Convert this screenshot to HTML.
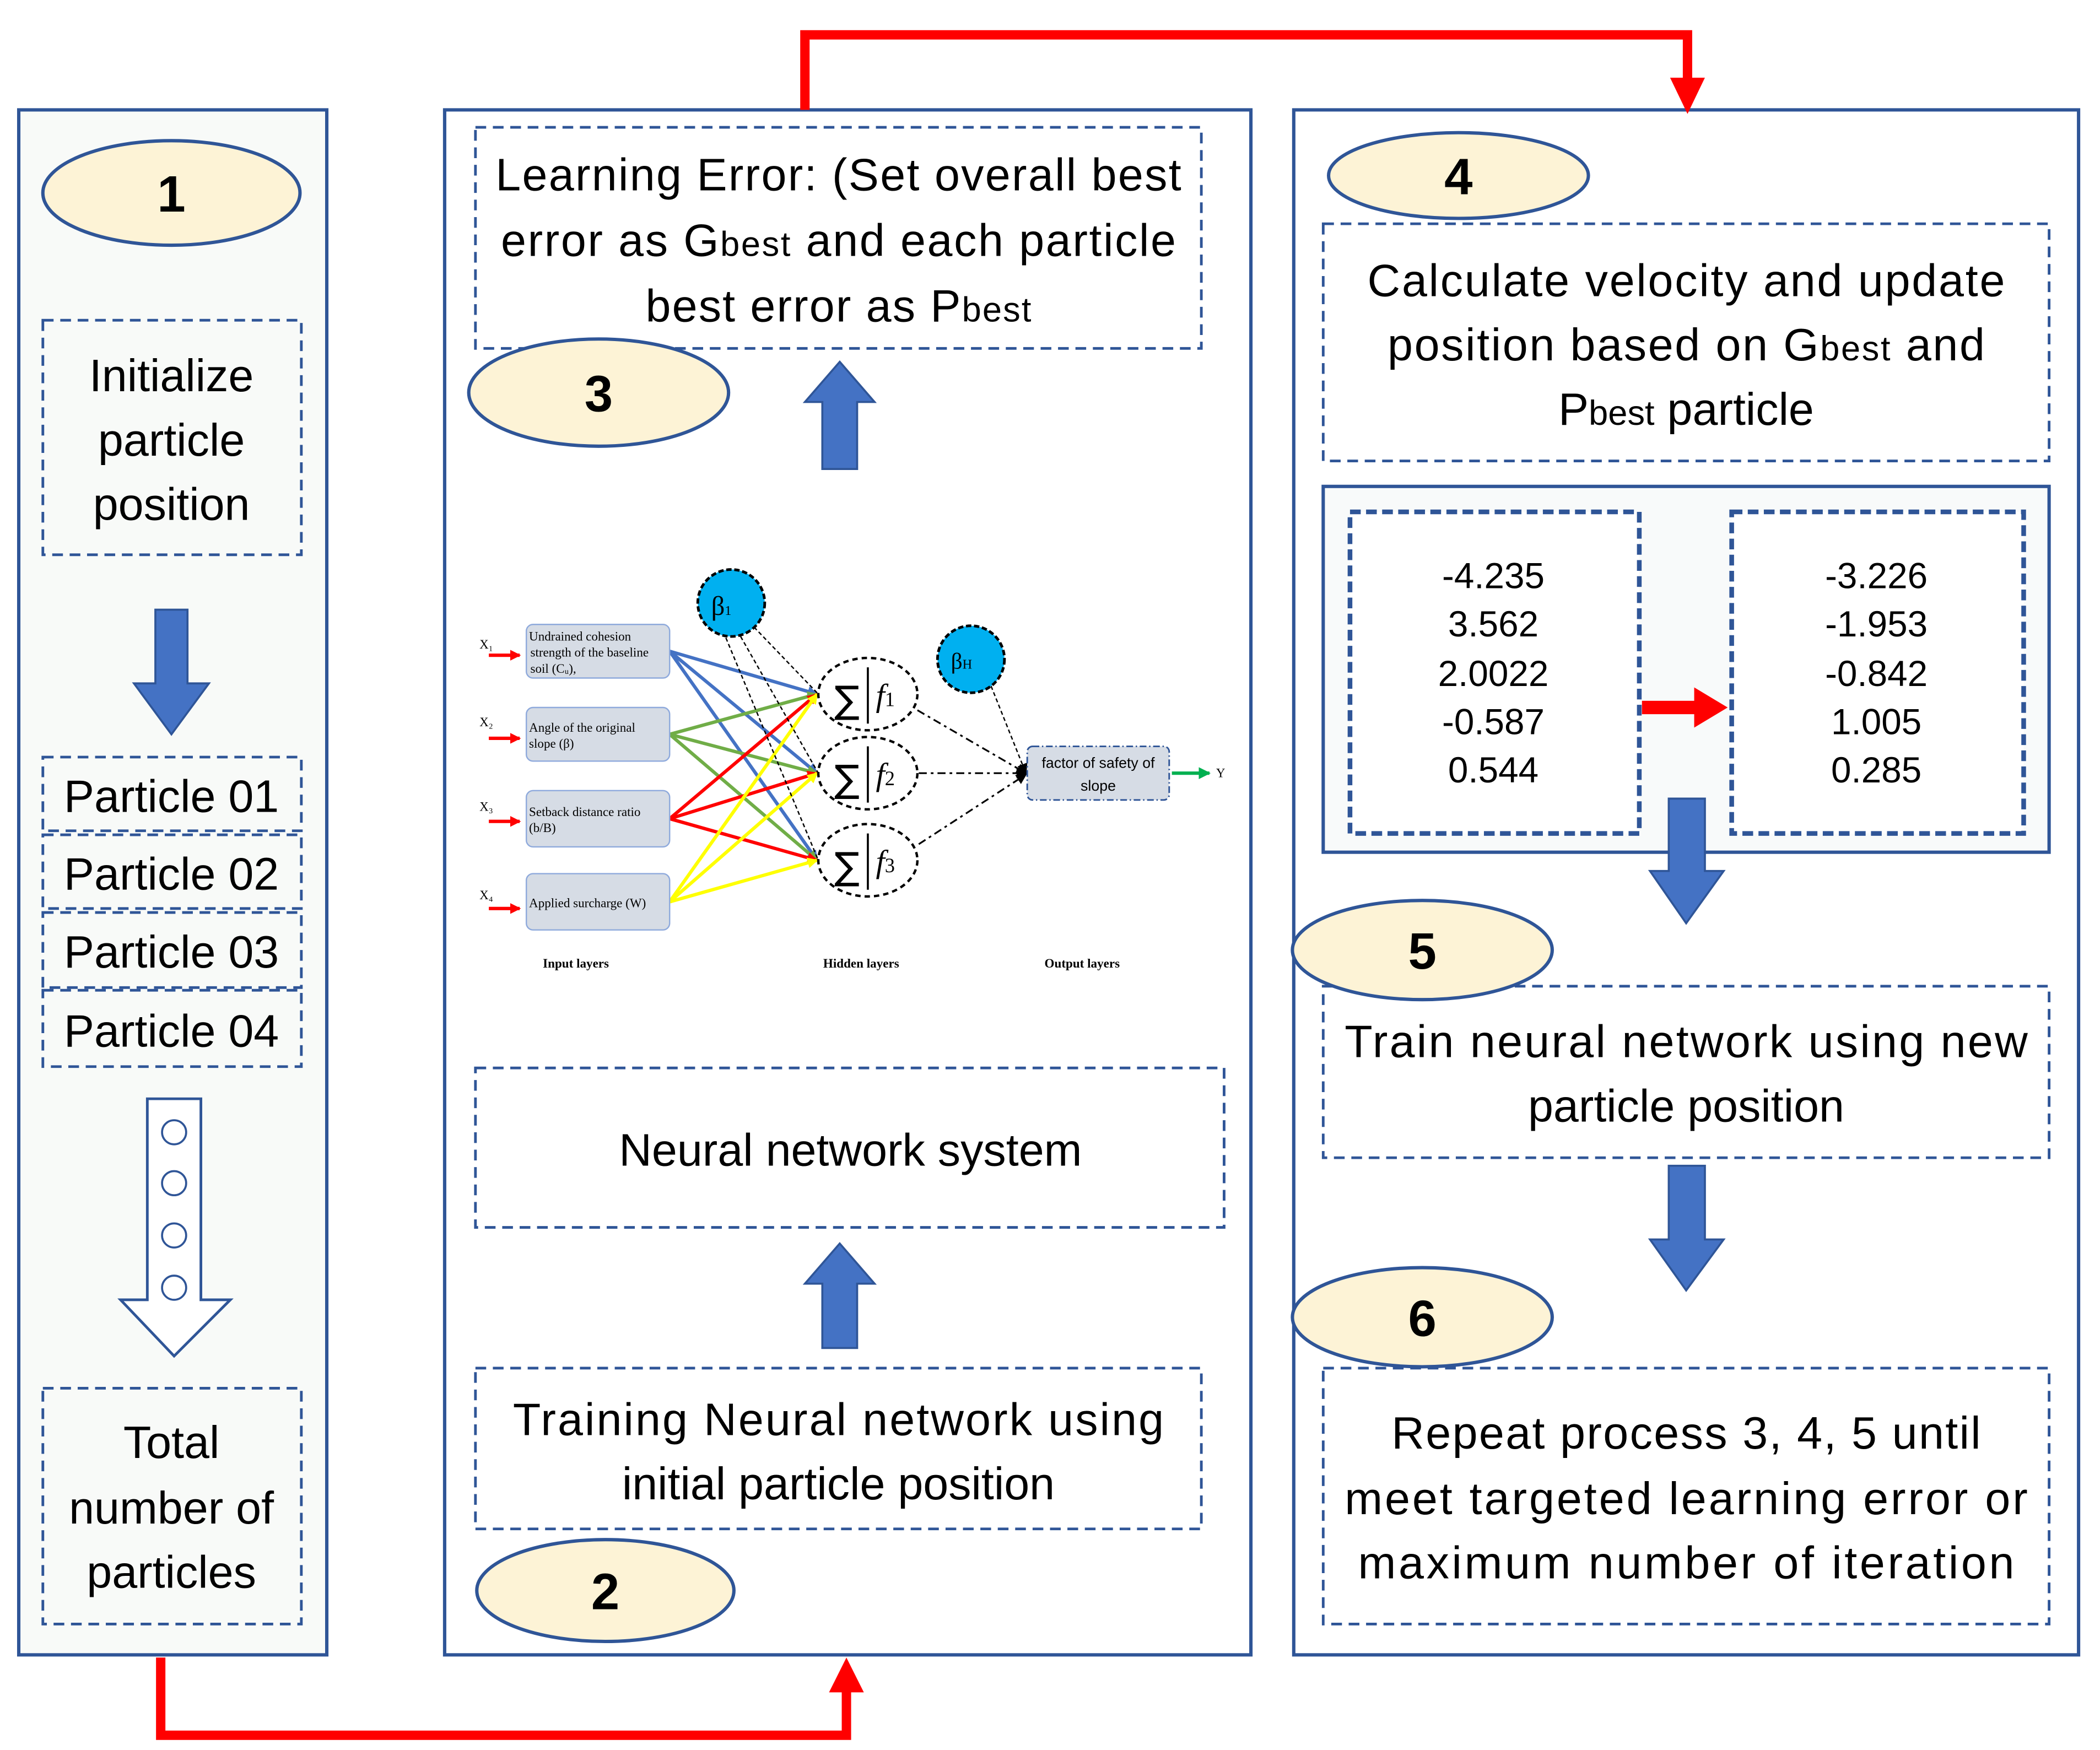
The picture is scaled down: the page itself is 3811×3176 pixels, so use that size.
<!DOCTYPE html>
<html><head><meta charset="utf-8"><style>html,body{margin:0;padding:0;background:#fff}svg{display:block;font-family:"Liberation Sans",sans-serif}</style></head>
<body>
<svg width="3811" height="3176" viewBox="0 0 1568 1306" preserveAspectRatio="none" xmlns="http://www.w3.org/2000/svg">
<defs>
<marker id="ab" markerWidth="8" markerHeight="8" refX="7" refY="4" orient="auto" markerUnits="userSpaceOnUse"><path d="M0,0 L8,4 L0,8 z" fill="#4472c4"/></marker>
<marker id="ag" markerWidth="8" markerHeight="8" refX="7" refY="4" orient="auto" markerUnits="userSpaceOnUse"><path d="M0,0 L8,4 L0,8 z" fill="#70ad47"/></marker>
<marker id="ar" markerWidth="8" markerHeight="8" refX="7" refY="4" orient="auto" markerUnits="userSpaceOnUse"><path d="M0,0 L8,4 L0,8 z" fill="#f00"/></marker>
<marker id="ay" markerWidth="8" markerHeight="8" refX="7" refY="4" orient="auto" markerUnits="userSpaceOnUse"><path d="M0,0 L8,4 L0,8 z" fill="#ff0"/></marker>
<marker id="ak" markerWidth="8" markerHeight="8" refX="7" refY="4" orient="auto" markerUnits="userSpaceOnUse"><path d="M0,0 L8,4 L0,8 z" fill="#000"/></marker>
<marker id="agr" markerWidth="9" markerHeight="9" refX="8" refY="4.5" orient="auto" markerUnits="userSpaceOnUse"><path d="M0,0 L9,4.5 L0,9 z" fill="#00b050"/></marker>
</defs>
<g stroke="#2f5597" stroke-width="2.5">
<rect x="14" y="82" width="230" height="1153" fill="#f8faf8"/>
<rect x="332" y="82" width="602" height="1153" fill="#fff"/>
<rect x="966" y="82" width="586" height="1153" fill="#fff"/>
</g>
<polyline points="601,82 601,26 1260,26 1260,62" fill="none" stroke="#f00" stroke-width="7"/>
<path d="M1247,58 L1273,58 L1260,85 z" fill="#f00"/>
<polyline points="120,1237 120,1295 632,1295 632,1260" fill="none" stroke="#f00" stroke-width="7"/>
<path d="M619,1263 L645,1263 L632,1237 z" fill="#f00"/>

<g fill="none" stroke="#2f5597" stroke-width="2" stroke-dasharray="8,5">
<rect x="32" y="239" width="193" height="175"/>
<rect x="32" y="565" width="193" height="55"/>
<rect x="32" y="623" width="193" height="55"/>
<rect x="32" y="681" width="193" height="56"/>
<rect x="32" y="739" width="193" height="57"/>
<rect x="32" y="1036" width="193" height="176"/>
<rect x="355" y="95" width="542" height="165"/>
<rect x="355" y="797" width="559" height="119"/>
<rect x="355" y="1021" width="542" height="120"/>
<rect x="988" y="167" width="542" height="177"/>
<rect x="988" y="736" width="542" height="128"/>
<rect x="988" y="1021" width="542" height="191"/>
</g>
<rect x="988" y="363" width="542" height="273" fill="#f8fafa" stroke="#2f5597" stroke-width="2.5"/>
<g fill="#fff" stroke="#2f5597" stroke-width="3.5" stroke-dasharray="8,4">
<rect x="1008" y="382" width="216" height="240"/>
<rect x="1293" y="382" width="218" height="240"/>
</g>

<g fill="#fdf3d6" stroke="#2f5597" stroke-width="2.5">
<ellipse cx="128" cy="144" rx="96" ry="39"/>
<ellipse cx="447" cy="293" rx="97" ry="40"/>
<ellipse cx="452" cy="1187" rx="96" ry="38"/>
<ellipse cx="1089" cy="131" rx="97" ry="32"/>
<ellipse cx="1062" cy="709" rx="97" ry="37"/>
<ellipse cx="1062" cy="983" rx="97" ry="37"/>
</g>
<g font-weight="bold" font-size="38" text-anchor="middle">
<text x="128" y="158">1</text><text x="447" y="307">3</text><text x="452" y="1201">2</text>
<text x="1089" y="145">4</text><text x="1062" y="723">5</text><text x="1062" y="997">6</text>
</g>

<g fill="#4472c4" stroke="#2f5597" stroke-width="1.5">
<path d="M116,455 H140 V510 H156 L128,548 L100,510 H116 z"/>
<path d="M614,350 V300 H601 L627,270 L653,300 H640 V350 z"/>
<path d="M614,1006 V958 H601 L627,928 L653,958 H640 V1006 z"/>
<path d="M1246,596 H1273 V650 H1287 L1259,689 L1232,650 H1246 z"/>
<path d="M1246,870 H1273 V925 H1287 L1259,963 L1232,925 H1246 z"/>
</g>
<path d="M110,820 H150 V970 H172 L130,1012 L90,970 H110 z" fill="#fff" stroke="#2f5597" stroke-width="2"/>
<g fill="none" stroke="#2f5597" stroke-width="1.5">
<circle cx="130" cy="845" r="9"/><circle cx="130" cy="883" r="9"/><circle cx="130" cy="922" r="9"/><circle cx="130" cy="961" r="9"/>
</g>
<path d="M1226,523 H1265 V513 L1290,528 L1265,543 V533 H1226 z" fill="#f00"/>

<g font-size="34" text-anchor="middle">
<text x="128" y="292">Initialize</text><text x="128" y="340">particle</text><text x="128" y="388">position</text>
<text x="128" y="606">Particle 01</text><text x="128" y="664">Particle 02</text><text x="128" y="722">Particle 03</text><text x="128" y="781">Particle 04</text>
<text x="128" y="1088">Total</text><text x="128" y="1137">number of</text><text x="128" y="1185">particles</text>
<text x="626" y="142" textLength="512">Learning Error: (Set overall best</text>
<text x="626" y="191" textLength="504">error as G<tspan font-size="26">best</tspan> and each particle</text>
<text x="626" y="240" textLength="288">best error as P<tspan font-size="26">best</tspan></text>
<text x="635" y="870">Neural network system</text>
<text x="626" y="1071" textLength="486">Training Neural network using</text>
<text x="626" y="1119">initial particle position</text>
<text x="1259" y="221" textLength="476">Calculate velocity and update</text>
<text x="1259" y="269" textLength="446">position based on G<tspan font-size="26">best</tspan> and</text>
<text x="1259" y="317">P<tspan font-size="26">best</tspan> particle</text>
<text x="1259" y="789" textLength="510">Train neural network using new</text>
<text x="1259" y="837">particle position</text>
<text x="1259" y="1081" textLength="440">Repeat process 3, 4, 5 until</text>
<text x="1259" y="1130" textLength="510">meet targeted learning error or</text>
<text x="1259" y="1178" textLength="490">maximum number of iteration</text>
</g>
<g font-size="27" text-anchor="middle">
<text x="1115" y="439">-4.235</text><text x="1115" y="475">3.562</text><text x="1115" y="512">2.0022</text><text x="1115" y="548">-0.587</text><text x="1115" y="584">0.544</text>
<text x="1401" y="439">-3.226</text><text x="1401" y="475">-1.953</text><text x="1401" y="512">-0.842</text><text x="1401" y="548">1.005</text><text x="1401" y="584">0.285</text>
</g>

<g stroke-width="2.5" fill="none">
<line x1="500" y1="486" x2="610" y2="518" stroke="#4472c4" marker-end="url(#ab)"/>
<line x1="500" y1="486" x2="610" y2="577" stroke="#4472c4" marker-end="url(#ab)"/>
<line x1="500" y1="486" x2="610" y2="642" stroke="#4472c4" marker-end="url(#ab)"/>
<line x1="500" y1="548" x2="610" y2="518" stroke="#70ad47" marker-end="url(#ag)"/>
<line x1="500" y1="548" x2="610" y2="577" stroke="#70ad47" marker-end="url(#ag)"/>
<line x1="500" y1="548" x2="610" y2="642" stroke="#70ad47" marker-end="url(#ag)"/>
<line x1="500" y1="611" x2="610" y2="518" stroke="#f00" marker-end="url(#ar)"/>
<line x1="500" y1="611" x2="610" y2="577" stroke="#f00" marker-end="url(#ar)"/>
<line x1="500" y1="611" x2="610" y2="642" stroke="#f00" marker-end="url(#ar)"/>
<line x1="500" y1="673" x2="610" y2="518" stroke="#ff0" marker-end="url(#ay)"/>
<line x1="500" y1="673" x2="610" y2="577" stroke="#ff0" marker-end="url(#ay)"/>
<line x1="500" y1="673" x2="610" y2="642" stroke="#ff0" marker-end="url(#ay)"/>
</g>
<g stroke="#000" stroke-width="1" stroke-dasharray="3,2" fill="none">
<line x1="563" y1="468" x2="611" y2="518"/>
<line x1="553" y1="475" x2="611" y2="577"/>
<line x1="542" y1="476" x2="611" y2="642"/>
<line x1="740" y1="512" x2="766" y2="577" marker-end="url(#ak)"/>
</g>
<g stroke="#000" stroke-width="1.3" stroke-dasharray="6,3,2,3" fill="none">
<line x1="685" y1="530" x2="766" y2="577" marker-end="url(#ak)"/>
<line x1="686" y1="577" x2="766" y2="577" marker-end="url(#ak)"/>
<line x1="686" y1="630" x2="766" y2="578" marker-end="url(#ak)"/>
</g>
<g fill="#d6dce5" stroke="#8faadc" stroke-width="1">
<rect x="393" y="466" width="107" height="40" rx="5"/>
<rect x="393" y="528" width="107" height="40" rx="5"/>
<rect x="393" y="590" width="107" height="42" rx="5"/>
<rect x="393" y="652" width="107" height="42" rx="5"/>
</g>
<rect x="767" y="557" width="106" height="40" rx="4" fill="#d6dce5" stroke="#2f5597" stroke-width="1.2" stroke-dasharray="5,2,1,2"/>
<g fill="#00b0f0" stroke="#000" stroke-width="2" stroke-dasharray="4,2">
<circle cx="546" cy="450" r="25"/><circle cx="725" cy="492" r="25"/>
</g>
<g fill="#fff" stroke="#000" stroke-width="1.8" stroke-dasharray="4,3">
<ellipse cx="648" cy="518" rx="37" ry="27"/><ellipse cx="648" cy="577" rx="37" ry="27"/><ellipse cx="648" cy="642" rx="37" ry="27"/>
</g>
<g stroke="#000" stroke-width="1.5"><line x1="648" y1="498" x2="648" y2="540"/><line x1="648" y1="557" x2="648" y2="599"/><line x1="648" y1="622" x2="648" y2="664"/></g>
<g font-family="Liberation Serif,serif" font-size="24">
<text x="623" y="532" font-family="DejaVu Sans,sans-serif" font-size="28">∑</text><text x="654" y="527" font-style="italic">f<tspan font-size="15" font-style="normal">1</tspan></text>
<text x="623" y="591" font-family="DejaVu Sans,sans-serif" font-size="28">∑</text><text x="654" y="586" font-style="italic">f<tspan font-size="15" font-style="normal">2</tspan></text>
<text x="623" y="656" font-family="DejaVu Sans,sans-serif" font-size="28">∑</text><text x="654" y="651" font-style="italic">f<tspan font-size="15" font-style="normal">3</tspan></text>
<text x="531" y="459" font-size="20">β<tspan font-size="10">1</tspan></text>
<text x="710" y="499" font-size="17">β<tspan font-size="10">H</tspan></text>
</g>
<g font-family="Liberation Serif,serif" font-size="9.5">
<text x="395" y="478">Undrained cohesion</text><text x="396" y="490">strength of the baseline</text><text x="396" y="502">soil (Cᵤ),</text>
<text x="395" y="546">Angle of the original</text><text x="395" y="558">slope (β)</text>
<text x="395" y="609">Setback distance ratio</text><text x="395" y="621">(b/B)</text>
<text x="395" y="677">Applied surcharge (W)</text>
<text x="358" y="484">X₁</text><text x="358" y="542">X₂</text><text x="358" y="605">X₃</text><text x="358" y="671">X₄</text>
<text x="908" y="580">Y</text>
<text x="430" y="722" text-anchor="middle" font-weight="bold">Input layers</text>
<text x="643" y="722" text-anchor="middle" font-weight="bold">Hidden layers</text>
<text x="808" y="722" text-anchor="middle" font-weight="bold">Output layers</text>
</g>
<text x="820" y="573" font-size="11" text-anchor="middle">factor of safety of</text>
<text x="820" y="590" font-size="11" text-anchor="middle">slope</text>
<g stroke="#f00" stroke-width="2.5">
<line x1="365" y1="489" x2="388" y2="489" marker-end="url(#ar)"/>
<line x1="365" y1="551" x2="388" y2="551" marker-end="url(#ar)"/>
<line x1="365" y1="613" x2="388" y2="613" marker-end="url(#ar)"/>
<line x1="365" y1="678" x2="388" y2="678" marker-end="url(#ar)"/>
</g>
<line x1="875" y1="577" x2="903" y2="577" stroke="#00b050" stroke-width="2.5" marker-end="url(#agr)"/>
</svg>
</body></html>
